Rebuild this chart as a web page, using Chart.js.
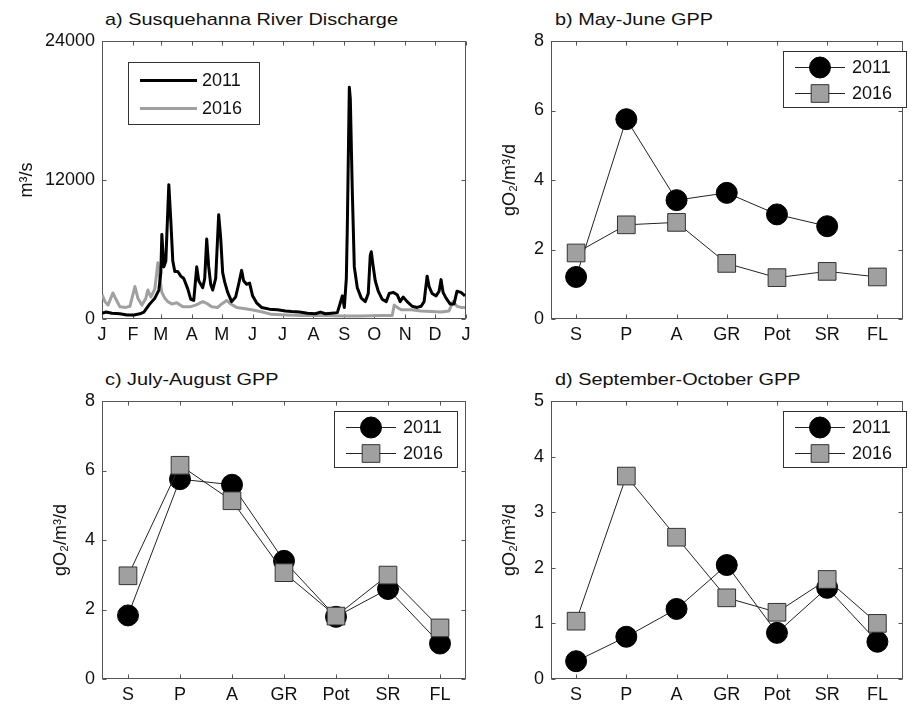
<!DOCTYPE html>
<html>
<head>
<meta charset="utf-8">
<script src="https://cdn.jsdelivr.net/npm/chart.js@4.4.1/dist/chart.umd.min.js"></script>
<style>
  body { margin: 0; background: #fff; width: 916px; height: 706px; position: relative; overflow: hidden; }
  canvas { position: absolute; left: 0; top: 0; }
  .ttl { position: absolute; font: 17px "Liberation Sans", Arial, sans-serif; line-height: 20px; transform: scaleX(1.17); transform-origin: 0 0; white-space: nowrap; color: #111; }
</style>
</head>
<body>
<div class="ttl" style="left:105px;top:10px">a) Susquehanna River Discharge</div>
<div class="ttl" style="left:555px;top:10px">b) May-June GPP</div>
<div class="ttl" style="left:105px;top:370px">c) July-August GPP</div>
<div class="ttl" style="left:555px;top:370px">d) September-October GPP</div>
<canvas id="pa" width="916" height="706"></canvas>
<canvas id="pb" width="916" height="706"></canvas>
<canvas id="pc" width="916" height="706"></canvas>
<canvas id="pd" width="916" height="706"></canvas>
<script>
// panel a: daily discharge (day of year, m3/s)
const monthLabels = ['J','F','M','A','M','J','J','A','S','O','N','D','J'];
const monthStarts = [0,31,59,90,120,151,181,212,243,273,304,334,365];
const flowTicks = [0, 12000, 24000];

const days2011 = [0,4,10,18,25,32,38,42,47,50,53,57,59,60,62,64,67,69,71,73,76,79,82,86,89,92,95,97,99,101,103,105,107,109,111,114,117,119,121,123,126,130,134,137,140,142,145,148,151,155,160,168,176,184,190,198,206,214,219,224,230,236,239,241,243,245,246,248,249,251,253,256,260,264,267,269,270,272,274,277,281,285,288,292,296,299,302,306,311,316,320,323,326,328,331,335,338,340,342,345,349,353,356,360,364];
const flow2011 = [500,600,500,450,350,350,450,600,1200,1500,1800,2500,4000,7300,4500,5000,11600,8500,5000,4100,4100,3700,3500,2600,1700,1600,4500,3300,3000,2700,3500,6900,4500,3000,2500,3500,9000,7000,4000,3200,2300,1500,1900,3000,4200,3300,3000,3100,2000,1400,1000,850,800,700,650,600,500,450,600,450,500,550,1400,2000,1000,3500,8000,20000,19000,11000,4500,2700,1800,1500,2200,5500,5800,4500,3300,2400,1700,1500,2200,2300,2100,1500,1900,1500,1100,1000,1100,1500,3700,2800,2200,2000,2400,3400,2300,1800,1300,1300,2400,2300,2000];

const days2016 = [0,3,6,11,14,18,24,28,33,36,40,44,46,49,53,56,58,60,63,66,70,75,81,88,94,101,106,110,116,120,125,129,135,142,150,161,170,185,200,220,240,260,280,291,293,296,300,310,320,330,340,348,352,356,360,364];
const flow2016 = [2100,1500,1200,2250,1700,1050,1000,1100,2800,1800,1200,1800,2500,1900,2600,4850,3500,2300,1800,1500,1300,1400,1050,1050,1200,1500,1300,1050,1000,1300,1600,1300,1000,900,800,600,400,350,300,300,250,250,300,300,1200,1000,800,800,700,650,600,700,1500,1100,1000,1000];

// panels b-d: GPP by site (gO2/m3/d)
const sites = ['S','P','A','GR','Pot','SR','FL'];
const mayJune2011 = [1.21, 5.75, 3.42, 3.63, 3.01, 2.67, null];
const mayJune2016 = [1.90, 2.71, 2.78, 1.60, 1.19, 1.37, 1.21];
const julAug2011 = [1.83, 5.75, 5.59, 3.40, 1.79, 2.59, 1.02];
const julAug2016 = [2.97, 6.15, 5.13, 3.06, 1.81, 2.99, 1.47];
const sepOct2011 = [0.32, 0.76, 1.26, 2.05, 0.83, 1.64, 0.67];
const sepOct2016 = [1.04, 3.65, 2.55, 1.46, 1.20, 1.79, 1.00];

const fontFam = '"Liberation Sans", Arial, Helvetica, sans-serif';
const tickFont = { family: fontFam, size: 18 };

// box + inward tick marks on all four sides
const frame = {
  id: 'frame',
  beforeDatasetsDraw(chart) {
    const { ctx, chartArea: a, scales: { x, y } } = chart;
    const L = Math.round(a.left) + 0.5, R = Math.round(a.right) - 0.5;
    const T = Math.round(a.top) + 0.5, B = Math.round(a.bottom) - 0.5;
    ctx.save();
    ctx.strokeStyle = '#555';
    ctx.lineWidth = 1;
    ctx.strokeRect(L, T, R - L, B - T);
    ctx.beginPath();
    x.ticks.forEach((t, i) => {
      const px = Math.round(x.getPixelForTick(i)) + 0.5;
      ctx.moveTo(px, B); ctx.lineTo(px, B - 4);
      ctx.moveTo(px, T); ctx.lineTo(px, T + 4);
    });
    y.ticks.forEach((t, i) => {
      const py = Math.round(y.getPixelForTick(i)) + 0.5;
      ctx.moveTo(L, py); ctx.lineTo(L + 4, py);
      ctx.moveTo(R, py); ctx.lineTo(R - 4, py);
    });
    ctx.stroke();
    ctx.restore();
  }
};

// legend box inside the axes
const boxLegend = {
  id: 'boxLegend',
  afterDraw(chart, args, o) {
    const { ctx, chartArea: a } = chart;
    const bx = Math.round(a.left + o.left) + 0.5, by = Math.round(a.top + o.top) + 0.5;
    ctx.save();
    ctx.fillStyle = '#fff';
    ctx.fillRect(bx, by, o.w, o.h);
    ctx.strokeStyle = '#333';
    ctx.lineWidth = 1;
    ctx.strokeRect(bx, by, o.w, o.h);
    chart.data.datasets.forEach((ds, i) => {
      const ry = Math.round(a.top + o.rows[i]) + 0.5;
      const x0 = a.left + o.x0, x1 = a.left + o.x1;
      ctx.strokeStyle = ds.borderColor;
      ctx.lineWidth = ds.borderWidth;
      ctx.beginPath(); ctx.moveTo(x0, ry); ctx.lineTo(x1, ry); ctx.stroke();
      if (ds.pointRadius > 0) {
        const cx = (x0 + x1) / 2;
        ctx.fillStyle = ds.pointBackgroundColor;
        ctx.strokeStyle = ds.pointBorderColor;
        ctx.lineWidth = 1;
        ctx.beginPath();
        if (ds.pointStyle === 'circle') {
          ctx.arc(cx, ry, ds.pointRadius, 0, Math.PI * 2);
        } else {
          const s = ds.pointRadius * Math.SQRT1_2;
          ctx.rect(cx - s, ry - s, 2 * s, 2 * s);
        }
        ctx.fill(); ctx.stroke();
      }
      ctx.fillStyle = '#111';
      ctx.font = '18px ' + fontFam;
      ctx.textBaseline = 'middle';
      ctx.fillText(ds.label, a.left + o.tx, ry + 1);
    });
    ctx.restore();
  }
};

function yScale(min, max, title, width, pad, extra) {
  return Object.assign({
    min, max,
    ticks: { font: tickFont, color: '#111', padding: 7 },
    grid: { display: false, drawTicks: false },
    border: { display: false },
    title: { display: true, text: title, font: { family: fontFam, size: 18 }, color: '#111', padding: { top: pad, bottom: 0 } },
    afterFit: s => { s.width = width; }
  }, extra);
}

function makePanel(id, box, scales, datasets, legend) {
  new Chart(document.getElementById(id), {
    type: 'line',
    data: { labels: scales.labels, datasets },
    options: {
      responsive: false,
      animation: false,
      devicePixelRatio: 1,
      layout: { padding: { left: box.L - box.W, right: 916 - box.R, top: box.T, bottom: 706 - box.B - 25 } },
      scales: { x: scales.x, y: scales.y },
      plugins: { legend: { display: false }, tooltip: { enabled: false }, boxLegend: legend }
    },
    plugins: [frame, boxLegend]
  });
}

function gppSet(label, data, circle) {
  return {
    label, data,
    borderColor: '#222', borderWidth: 1,
    pointStyle: circle ? 'circle' : 'rect',
    pointRadius: circle ? 10.5 : 12.5,
    pointBackgroundColor: circle ? '#000' : '#a0a0a0',
    pointBorderColor: circle ? '#000' : '#333',
    pointBorderWidth: 1,
    order: circle ? 1 : 0,
    spanGaps: false
  };
}

function catX() {
  return {
    type: 'category', offset: true,
    ticks: { font: tickFont, color: '#111', padding: 5, autoSkip: false, maxRotation: 0 },
    grid: { display: false, drawTicks: false },
    border: { display: false },
    afterFit: s => { s.height = 25; }
  };
}

function gppTicks(step) {
  return { ticks: { font: tickFont, color: '#111', padding: 7, stepSize: step, callback: v => String(v) } };
}

const gppLegend = { left: 232, top: 10, w: 123, h: 56, x0: 244, x1: 294, tx: 301, rows: [26, 52] };
const gppTitle = 'gO\u2082/m\u00b3/d';

// a) discharge
makePanel('pa', { L: 102, R: 466, T: 41, B: 319, W: 102 }, {
  x: {
    type: 'linear', min: 0, max: 365,
    afterBuildTicks: s => { s.ticks = monthStarts.map(v => ({ value: v })); },
    ticks: { font: tickFont, color: '#111', padding: 5, autoSkip: false, maxRotation: 0, callback: (v, i) => monthLabels[i] },
    grid: { display: false, drawTicks: false },
    border: { display: false },
    afterFit: s => { s.height = 25; }
  },
  y: yScale(0, 24000, 'm\u00b3/s', 102, 16, {
    afterBuildTicks: s => { s.ticks = flowTicks.map(v => ({ value: v })); },
    ticks: { font: tickFont, color: '#111', padding: 7, callback: v => String(v) }
  })
}, [
  { label: '2011', data: days2011.map((d, i) => ({ x: d, y: flow2011[i] })), borderColor: '#000', borderWidth: 3, pointRadius: 0, borderJoinStyle: 'round' },
  { label: '2016', data: days2016.map((d, i) => ({ x: d, y: flow2016[i] })), borderColor: '#a0a0a0', borderWidth: 3, pointRadius: 0, borderJoinStyle: 'round' }
], { left: 26, top: 21, w: 131, h: 62, x0: 38, x1: 95, tx: 100, rows: [39, 67] });

// b) May-June
makePanel('pb', { L: 551, R: 915, T: 41, B: 319, W: 70 }, {
  labels: sites, x: catX(),
  y: yScale(0, 8, gppTitle, 70, 18, gppTicks(2))
}, [gppSet('2011', mayJune2011, true), gppSet('2016', mayJune2016, false)], gppLegend);

// c) July-August
makePanel('pc', { L: 102, R: 466, T: 401, B: 679, W: 70 }, {
  labels: sites, x: catX(),
  y: yScale(0, 8, gppTitle, 70, 18, gppTicks(2))
}, [gppSet('2011', julAug2011, true), gppSet('2016', julAug2016, false)], gppLegend);

// d) September-October
makePanel('pd', { L: 551, R: 915, T: 401, B: 679, W: 70 }, {
  labels: sites, x: catX(),
  y: yScale(0, 5, gppTitle, 70, 18, gppTicks(1))
}, [gppSet('2011', sepOct2011, true), gppSet('2016', sepOct2016, false)], gppLegend);
</script>
</body>
</html>
